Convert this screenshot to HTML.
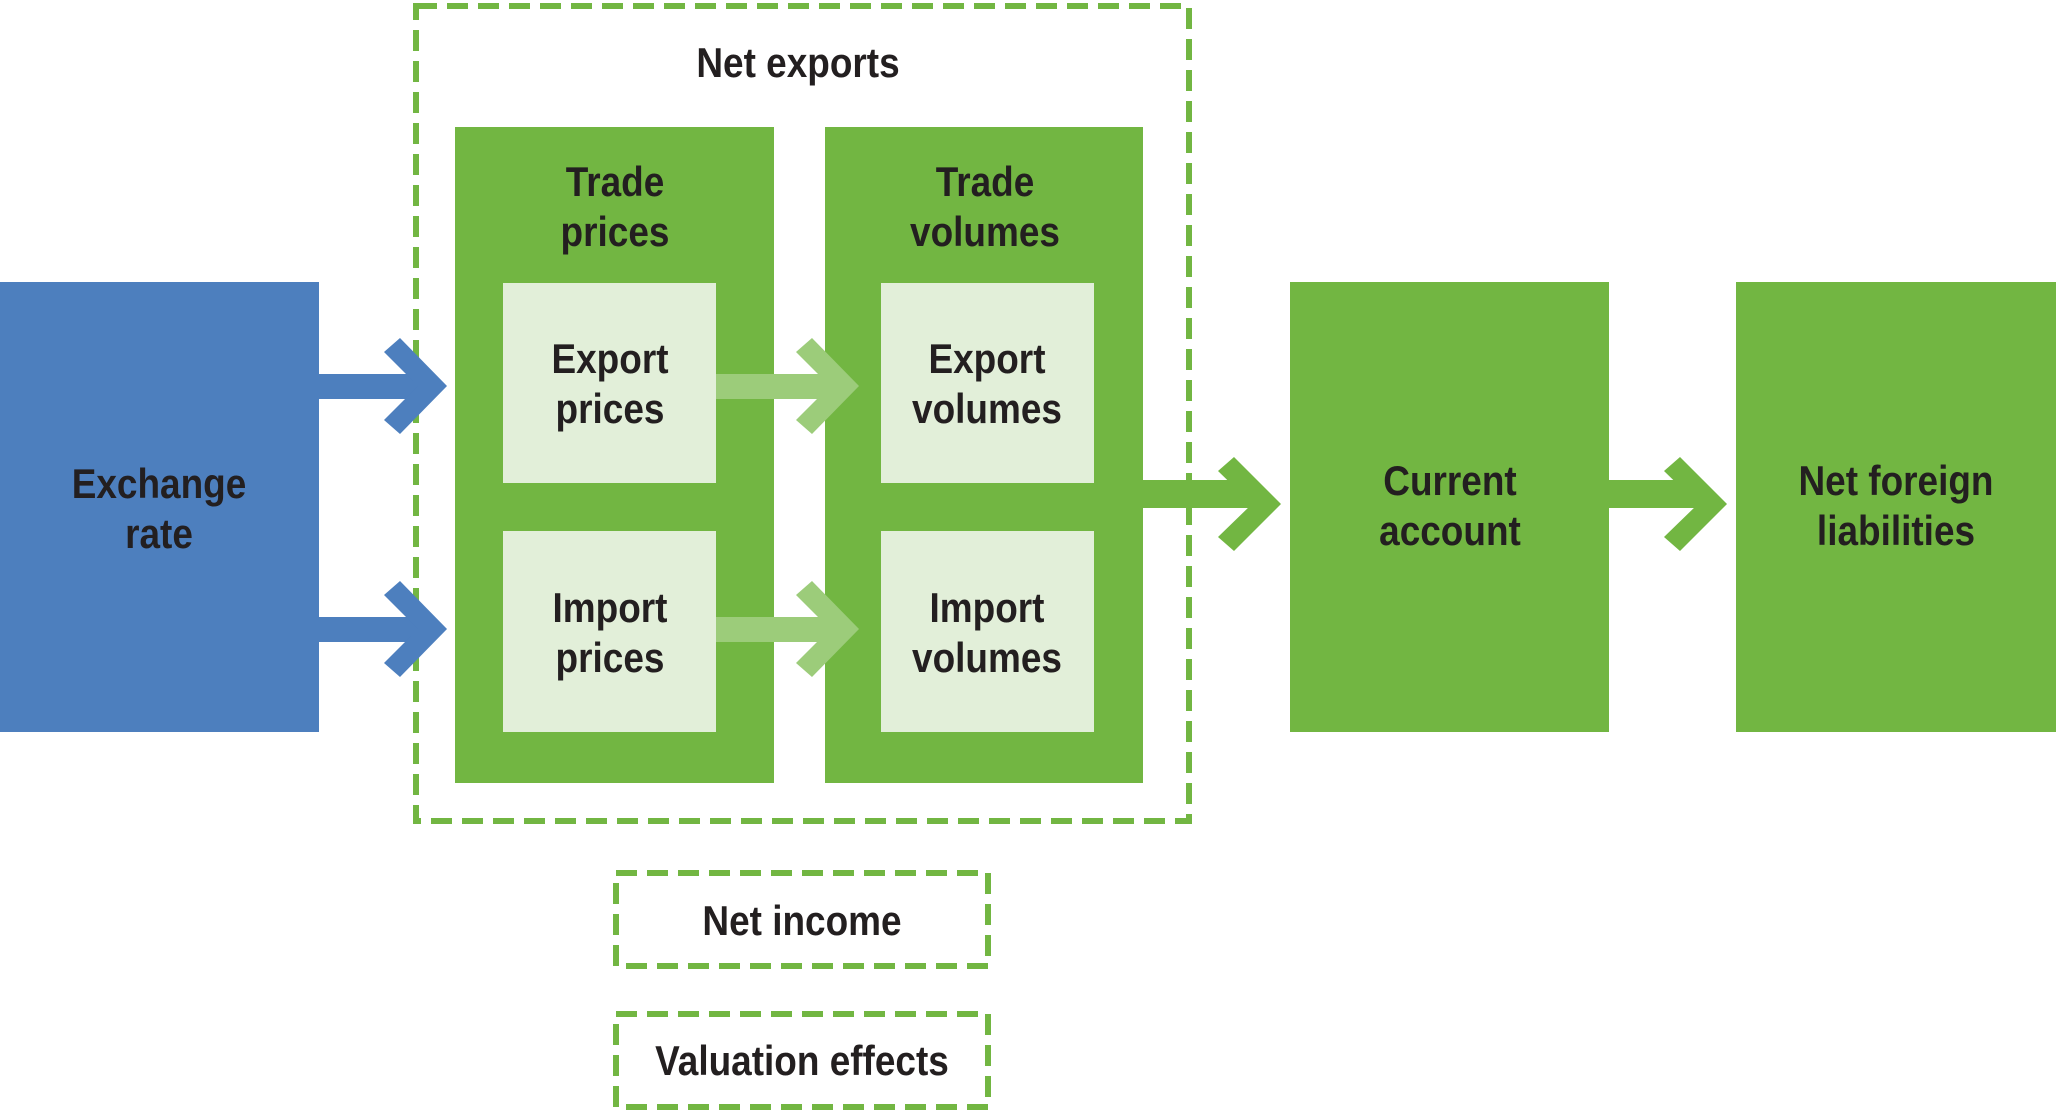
<!DOCTYPE html>
<html><head><meta charset="utf-8"><style>
html,body{margin:0;padding:0;background:#fff;}
svg{display:block}
text{font-family:"Liberation Sans Narrow","Liberation Sans",sans-serif;font-weight:bold;font-size:42px;fill:#231f20;text-anchor:middle;transform-box:fill-box;transform-origin:center;transform:scaleX(0.88);}
</style></head><body>
<svg width="2056" height="1112" viewBox="0 0 2056 1112" xmlns="http://www.w3.org/2000/svg">
<rect x="416" y="6" width="773" height="815" fill="none" stroke="#72b642" stroke-width="6" stroke-dasharray="21 10"/>
<text x="798" y="77">Net exports</text>
<rect x="0" y="282" width="319" height="450" fill="#4d7fbe"/>
<text x="159" y="498">Exchange</text><text x="159" y="548">rate</text>
<rect x="455" y="127" width="319" height="656" fill="#72b642"/>
<rect x="825" y="127" width="318" height="656" fill="#72b642"/>
<text x="615" y="196">Trade</text><text x="615" y="246">prices</text>
<text x="985" y="196">Trade</text><text x="985" y="246">volumes</text>
<rect x="503" y="283" width="213" height="200" fill="#e2efd9"/>
<rect x="503" y="531" width="213" height="201" fill="#e2efd9"/>
<rect x="881" y="283" width="213" height="200" fill="#e2efd9"/>
<rect x="881" y="531" width="213" height="201" fill="#e2efd9"/>
<text x="610" y="373">Export</text><text x="610" y="423">prices</text>
<text x="610" y="622">Import</text><text x="610" y="672">prices</text>
<text x="987" y="373">Export</text><text x="987" y="423">volumes</text>
<text x="987" y="622">Import</text><text x="987" y="672">volumes</text>
<rect x="1290" y="282" width="319" height="450" fill="#72b642"/>
<rect x="1736" y="282" width="320" height="450" fill="#72b642"/>
<text x="1450" y="495">Current</text><text x="1450" y="545">account</text>
<text x="1896" y="495">Net foreign</text><text x="1896" y="545">liabilities</text>
<g fill="#4d7fbe">
<rect x="319" y="374" width="100" height="25"/>
<polygon points="400,338 447,386 400,434 384,420 418,386 384,352"/>
<rect x="319" y="617" width="100" height="25"/>
<polygon points="400,581 447,629 400,677 384,663 418,629 384,595"/>
</g>
<g fill="#9ccc7a">
<rect x="716" y="374" width="115" height="25"/>
<polygon points="812,338 859,386 812,434 796,420 830,386 796,352"/>
<rect x="716" y="617" width="115" height="25"/>
<polygon points="812,581 859,629 812,677 796,663 830,629 796,595"/>
</g>
<g fill="#72b642">
<rect x="1143" y="480" width="110" height="28"/>
<polygon points="1234,457 1281,504 1234,551 1218,537 1252,504 1218,471"/>
<rect x="1609" y="480" width="92" height="28"/>
<polygon points="1680,457 1727,504 1680,551 1664,537 1698,504 1664,471"/>
</g>
<rect x="616" y="873" width="372" height="93" fill="none" stroke="#72b642" stroke-width="6" stroke-dasharray="21 10"/>
<text x="802" y="935">Net income</text>
<rect x="616" y="1014" width="372" height="93" fill="none" stroke="#72b642" stroke-width="6" stroke-dasharray="21 10"/>
<text x="802" y="1075">Valuation effects</text>
</svg>
</body></html>
